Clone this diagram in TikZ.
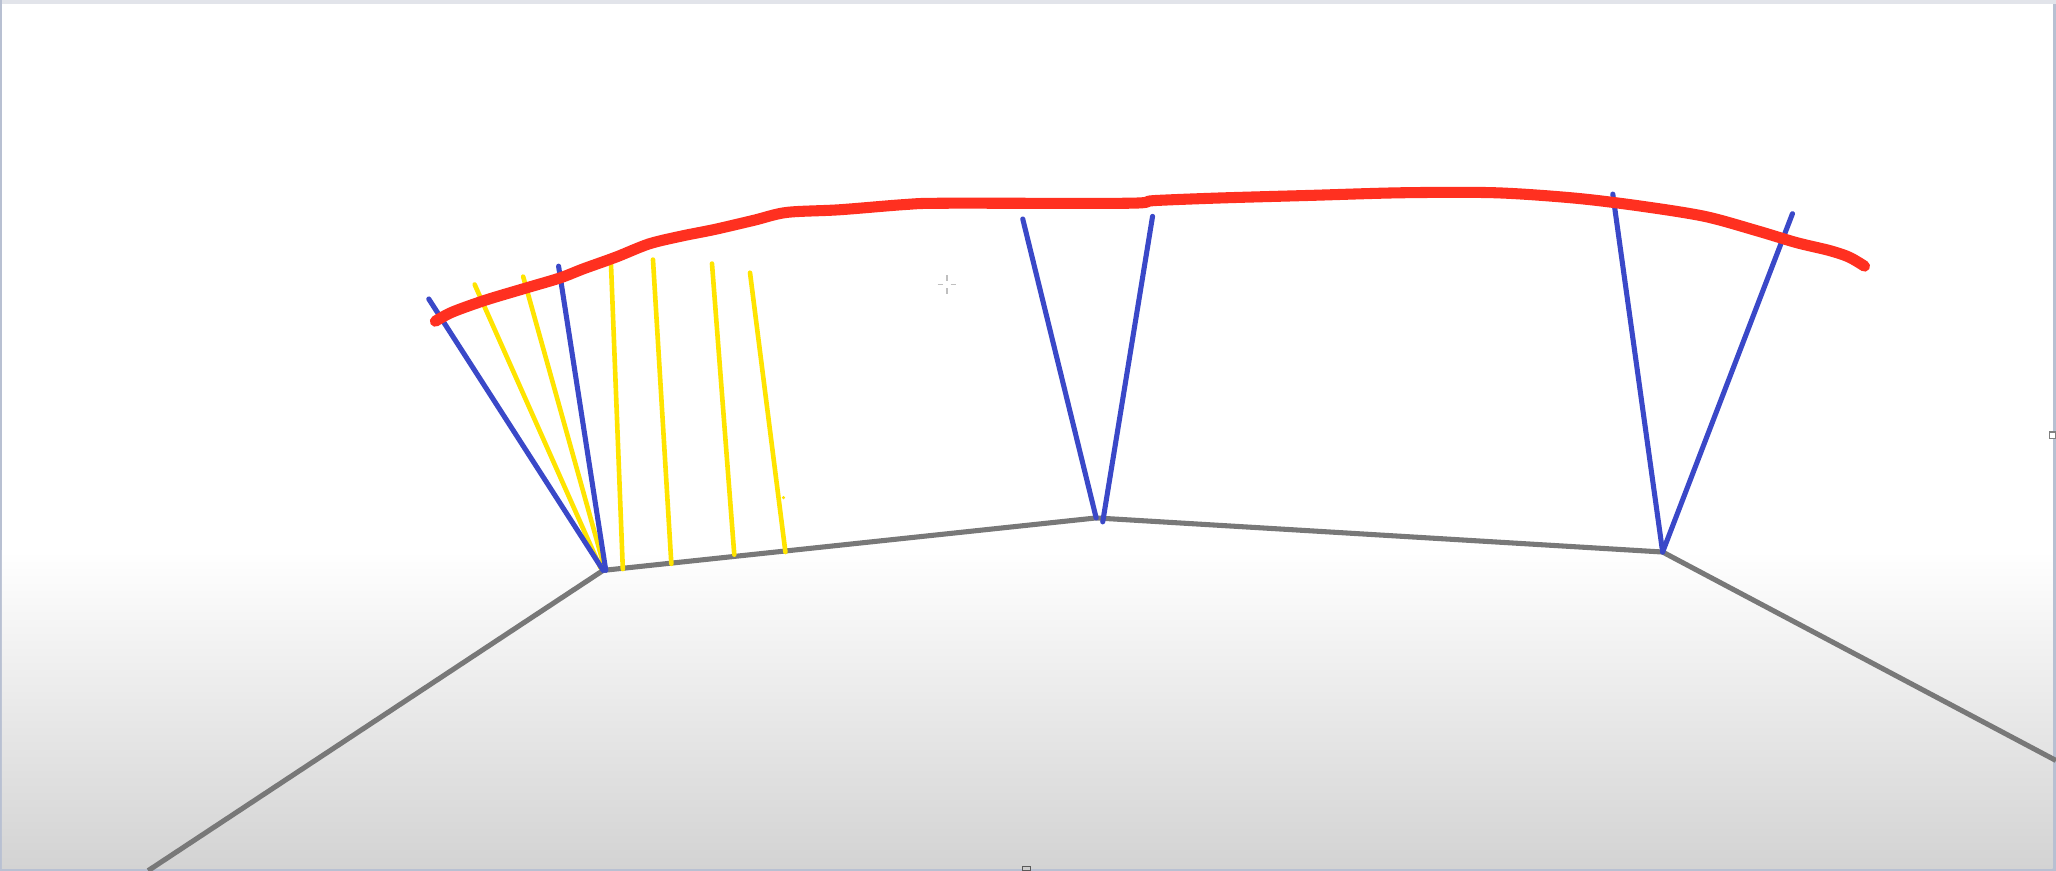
\documentclass[tikz,border=0pt]{standalone}
\usepackage{tikz}
\usepackage{xcolor}
\definecolor{frameblue}{RGB}{184,192,210}
\definecolor{topline}{RGB}{226,228,234}
\definecolor{floorgray}{RGB}{211,211,211}
\definecolor{edgegray}{RGB}{120,120,120}
\definecolor{penblue}{RGB}{58,72,200}
\definecolor{penyellow}{RGB}{255,228,0}
\definecolor{penred}{RGB}{255,48,32}
\tikzset{
  edge/.style={edgegray,line width=1.1pt},
  bluepen/.style={penblue,line width=1.1pt,line cap=round},
  yellowpen/.style={penyellow,line width=1pt,line cap=round},
  redpen/.style={penred,line width=2.4pt,line cap=round,line join=round}
}
\begin{document}
\begin{tikzpicture}[x=0.01cm,y=-0.01cm]
\useasboundingbox (0,0) rectangle (1568,664);
% frame and canvas
\fill[frameblue] (0,0) rectangle (1568,664);
\fill[white] (1.5,3) rectangle (1565.5,420);
\shade[top color=white,bottom color=floorgray] (1.5,420) rectangle (1565.5,662);
\fill[topline] (1.5,0) rectangle (1568,3);
\draw[gray,fill=white,line width=0.3pt] (1563,329.5) rectangle (1568,334.5);
\draw[gray!70!black,fill=gray!40,line width=0.3pt] (780,661) rectangle (786,664);
% cursor
\draw[gray!50,line width=0.4pt] (722,210) -- (722,214) (722,220) -- (722,224)
  (715,217) -- (719,217) (725,217) -- (729,217);
% floor corners
\coordinate (c1) at (460,435);
\coordinate (c2) at (836,395);
\coordinate (c3) at (1268,421);
% floor edges
\draw[edge] (113,664) -- (c1) -- (c2) -- (c3) -- (1568,580);
% yellow lines
\draw[yellowpen] (362,217) -- (458,433);
\draw[yellowpen] (399,211) -- (461,433);
\draw[yellowpen] (466,202) -- (475,434);
\draw[yellowpen] (498,198) -- (512,430);
\draw[yellowpen] (543,201) -- (560,423);
\draw[yellowpen] (572,208) -- (599,421);
\fill[penyellow] (597.5,379.5) circle (1.3);
% blue lines
\draw[bluepen] (327,228) -- (460,435);
\draw[bluepen] (426,203) -- (462,435);
\draw[bluepen] (780,167) -- (836,395);
\draw[bluepen] (879,165) -- (841,398);
\draw[bluepen] (1230,148) -- (c3);
\draw[bluepen] (1367,163) -- (c3);
% red curve
\draw[redpen] plot[smooth,tension=0.5] coordinates {
  (332,245) (345,238) (370,229) (400,220) (427,212) (445,205) (470,196)
  (495,186) (520,180) (545,175) (575,168) (600,162) (640,160) (690,156)
  (720,155) (860,155) (880,153) (930,151) (1000,149) (1070,147) (1140,147)
  (1200,151) (1250,157) (1300,165) (1340,176) (1370,185) (1395,191)
  (1410,196) (1422,203)};
\end{tikzpicture}
\end{document}
